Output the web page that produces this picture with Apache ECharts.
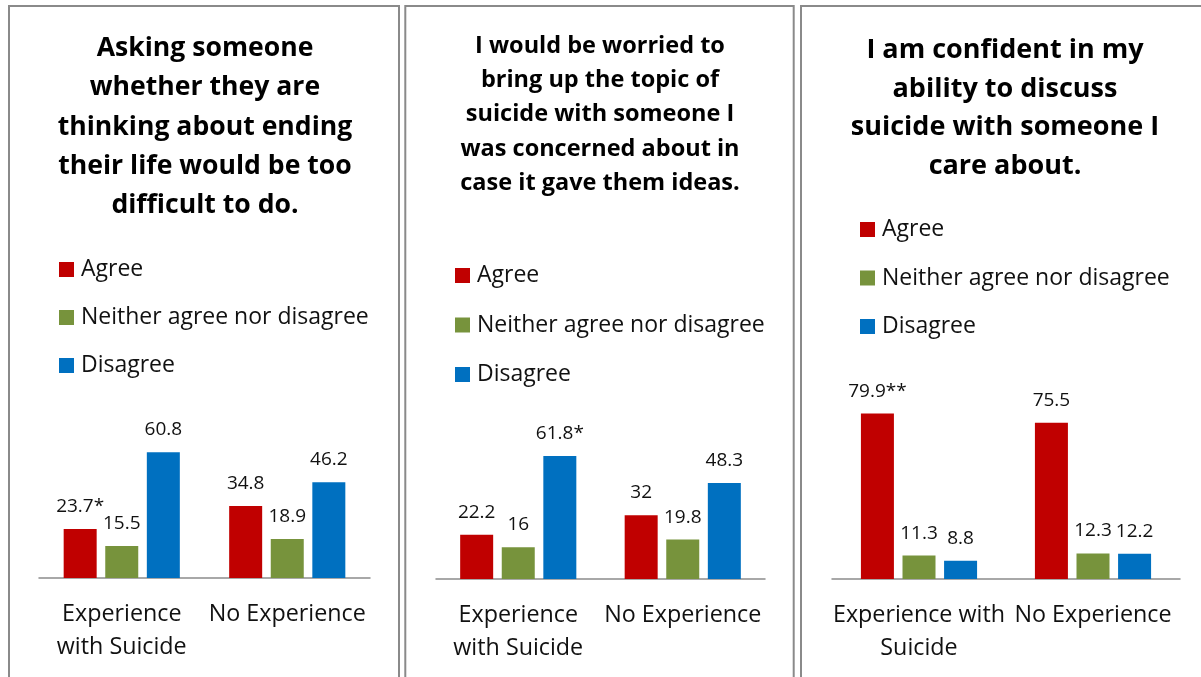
<!DOCTYPE html>
<html>
<head>
<meta charset="utf-8">
<script src="https://cdn.jsdelivr.net/npm/echarts@6/dist/echarts.min.js"></script>
<style>
html,body{margin:0;padding:0;background:#fff;}
#chart{width:1201px;height:677px;}
</style>
</head>
<body>
<div id="chart"></div>
<script>
// ---- data ----
const seriesNames = ["Agree", "Neither agree nor disagree", "Disagree"];
const colors = ["#C00000", "#77933C", "#0070C0"];

const titles = [
  "Asking someone\nwhether they are\nthinking about ending\ntheir life would be too\ndifficult to do.",
  "I would be worried to\nbring up the topic of\nsuicide with someone I\nwas concerned about in\ncase it gave them ideas.",
  "I am confident in my\nability to discuss\nsuicide with someone I\ncare about."
];

const p1Categories = ["Experience\nwith Suicide", "No Experience"];
const p1Agree = [23.7, 34.8];
const p1Neither = [15.5, 18.9];
const p1Disagree = [60.8, 46.2];
const p1Notes = [["*", ""], ["", ""], ["", ""]];

const p2Categories = ["Experience\nwith Suicide", "No Experience"];
const p2Agree = [22.2, 32];
const p2Neither = [16, 19.8];
const p2Disagree = [61.8, 48.3];
const p2Notes = [["", ""], ["", ""], ["*", ""]];

const p3Categories = ["Experience with\nSuicide", "No Experience"];
const p3Agree = [79.9, 75.5];
const p3Neither = [11.3, 12.3];
const p3Disagree = [8.8, 12.2];
const p3Notes = [["**", ""], ["", ""], ["", ""]];

// ---- layout ----
const FONT = "Open Sans";
const panels = [
  { cats: p1Categories, vals: [p1Agree, p1Neither, p1Disagree], notes: p1Notes,
    grid: { left: 39, width: 331, top: 371, height: 207 },
    border: { x: 9, w: 390 },
    title: { x: 205, y: 29, size: 26.6, lh: 39.2 },
    legend: { left: 54, top: 253, gap: 25 } },
  { cats: p2Categories, vals: [p2Agree, p2Neither, p2Disagree], notes: p2Notes,
    grid: { left: 436, width: 329, top: 380, height: 199 },
    border: { x: 405.3, w: 388.4 },
    title: { x: 600, y: 29, size: 23.5, lh: 34.25 },
    legend: { left: 450, top: 259, gap: 26.5 } },
  { cats: p3Categories, vals: [p3Agree, p3Neither, p3Disagree], notes: p3Notes,
    grid: { left: 832, width: 348, top: 372, height: 207 },
    border: { x: 801, w: 420 },
    title: { x: 1005, y: 31, size: 27, lh: 38.7 },
    legend: { left: 855, top: 213, gap: 25.5 } }
];

const option = {
  animation: false,
  backgroundColor: "#fff",
  textStyle: { fontFamily: FONT },
  grid: [], xAxis: [], yAxis: [], series: [], legend: [], graphic: []
};

panels.forEach((p, i) => {
  option.grid.push(Object.assign({ containLabel: false }, p.grid));
  option.xAxis.push({
    type: "category", gridIndex: i, data: p.cats,
    axisLine: { show: true, lineStyle: { color: "#8c8c8c", width: 1.5 } },
    axisTick: { show: false },
    axisLabel: { interval: 0, margin: 20, fontSize: 23.3, lineHeight: 33, color: "#111", fontFamily: FONT },
    splitLine: { show: false }
  });
  option.yAxis.push({
    type: "value", gridIndex: i, min: 0, max: 100, show: false, splitLine: { show: false }
  });
  seriesNames.forEach((name, s) => {
    option.series.push({
      type: "bar", name: name, xAxisIndex: i, yAxisIndex: i,
      data: p.vals[s], barWidth: 33, barGap: "26%",
      itemStyle: { color: colors[s] },
      label: {
        show: true, position: "top", distance: 13, fontSize: 19, color: "#111", fontFamily: FONT,
        formatter: (params) => params.value + p.notes[s][params.dataIndex]
      }
    });
  });
  option.legend.push({
    orient: "vertical", left: p.legend.left, top: p.legend.top,
    itemGap: p.legend.gap, itemWidth: 15, itemHeight: 15, icon: "rect",
    data: seriesNames,
    textStyle: { fontSize: 23, lineHeight: 22, color: "#111", fontFamily: FONT, padding: [0, 0, 0, 2] }
  });
  option.graphic.push({
    type: "rect", silent: true,
    shape: { x: p.border.x, y: 6, width: p.border.w, height: 720 },
    style: { fill: "none", stroke: "#8a8a8a", lineWidth: 2 }
  });
  option.graphic.push({
    type: "text", silent: true, x: p.title.x, y: p.title.y,
    style: {
      text: titles[i], fill: "#000", align: "center", verticalAlign: "top",
      fontFamily: FONT, fontWeight: "bold", fontSize: p.title.size, lineHeight: p.title.lh
    }
  });
});

const chart = echarts.init(document.getElementById("chart"), null, { renderer: "canvas" });
chart.setOption(option);
</script>
</body>
</html>
